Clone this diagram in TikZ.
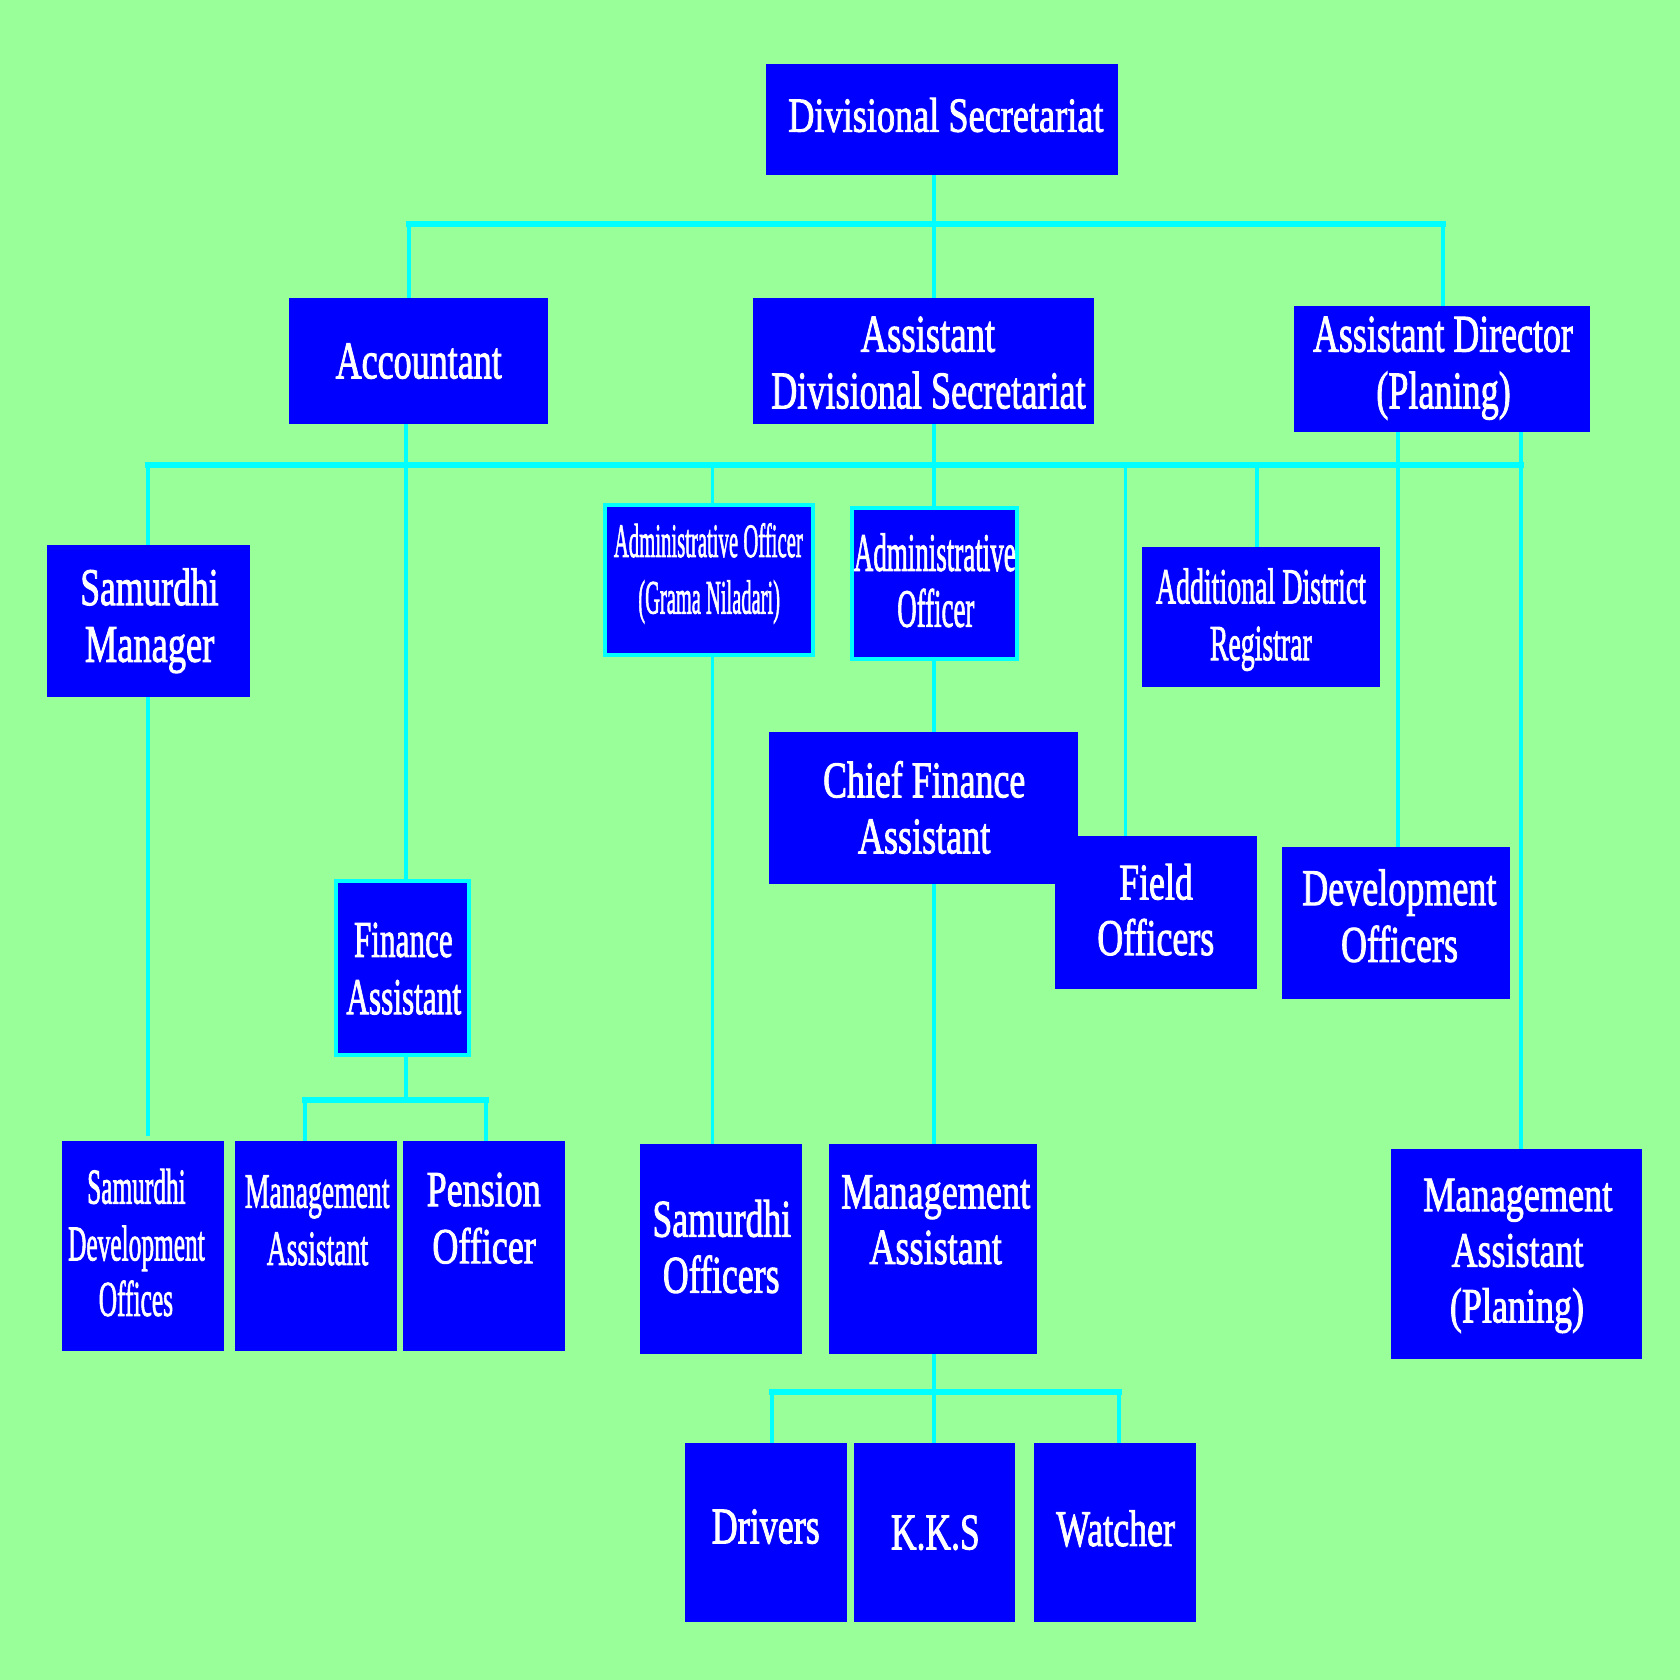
\documentclass[tikz,border=0pt]{standalone}
\usepackage{fontspec}
\setmainfont{Liberation Serif}[FakeBold=2.0]
\usepackage{graphicx}
\definecolor{bgc}{RGB}{153,255,153}
\definecolor{boxblue}{RGB}{0,0,255}
\definecolor{linkc}{RGB}{0,255,255}
\pgfdeclarelayer{back}
\pgfdeclarelayer{lines}
\pgfsetlayers{back,lines,main}
\newsavebox\fitbox
\newlength\fitlen
\newcommand\fitline[2]{\sbox\fitbox{#2}\setlength\fitlen{\wd\fitbox}\pgfmathsetmacro\fitsx{#1*0.284528/\fitlen}\scalebox{\fitsx}[1]{\usebox\fitbox}}
\newcommand\tl[6]{\node[lbl,font={\fontsize{#4}{#4}\selectfont}] (#1) at (#2,-#3) {\fitline{#5}{#6}};}
\newcommand\bx[6][]{\node[box,#1,minimum width={(#4-#3)*0.01cm},minimum height={(#6-#5)*0.01cm}] (#2) at ({(#3+#4)/2},{-(#5+#6)/2}) {};}
\tikzset{
  box/.style={rectangle,fill=boxblue,inner sep=0pt,outer sep=0pt},
  bbox/.style={box,draw=linkc,line width=1.05pt},
  lbl/.style={anchor=base,inner sep=0pt,outer sep=0pt,text=white},
  hl/.style={draw=linkc,line width=1.56pt,line cap=rect},
  vl/.style={draw=linkc,line width=1pt},
}
\begin{document}
\begin{tikzpicture}[x=0.01cm,y=0.01cm]
\useasboundingbox (0,0) rectangle (1568,-1568);
\begin{pgfonlayer}{back}
\fill[bgc] (0,0) rectangle (1568,-1568);
\end{pgfonlayer}
% boxes
\bx{ds}{714.5}{1043.8}{59.7}{163}
\bx{acc}{269.7}{511.0}{278.5}{395.7}
\bx{ads}{703}{1020.9}{277.8}{395.7}
\bx{ad}{1207.7}{1484.2}{285.3}{403.2}
\bx{sm}{44.3}{233.7}{508.7}{650.2}
\bx[bbox]{aogn}{565}{758.8}{471.7}{611.6}
\bx[bbox]{ao}{795.2}{949.5}{474.2}{614.7}
\bx{adr}{1065.6}{1287.7}{510.8}{640.9}
\bx{cfa}{717.3}{1006.5}{682.9}{824.8}
\bx{field}{984.2}{1173.2}{780.3}{922.8}
\bx{dev}{1196.9}{1409.1}{790.2}{932.4}
\bx[bbox]{fa}{313.7}{437.4}{822.2}{984.5}
\bx{sdo}{58.2}{209}{1065}{1261}
\bx{mal}{219.5}{370.4}{1065}{1261}
\bx{po}{375.8}{526.9}{1065}{1261}
\bx{so}{597.2}{748.7}{1067.7}{1263.7}
\bx{mam}{773.4}{968}{1067.7}{1263.7}
\bx{map}{1298}{1532.2}{1072.7}{1268.7}
\bx{drv}{639.3}{790.2}{1347.1}{1513.6}
\bx{kks}{797.3}{947.6}{1347.1}{1513.6}
\bx{wat}{965.5}{1116.3}{1347.1}{1513.6}
% junction coordinates
\coordinate (bus1) at (0,-209.2);
\coordinate (bus2) at (0,-434);
\coordinate (fab) at (0,-1027);
\coordinate (mab) at (0,-1299);
\coordinate (xds) at (871.9,0);
\coordinate (xacc1) at (381.7,0);
\coordinate (xad1) at (1347,0);
\coordinate (xsm) at (137.9,0);
\coordinate (xacc) at (378.8,0);
\coordinate (xgn) at (665.1,0);
\coordinate (xao) at (871.5,0);
\coordinate (xfo) at (1050.5,0);
\coordinate (xadr) at (1173,0);
\coordinate (xdev) at (1305,0);
\coordinate (xmap) at (1419.3,0);
\coordinate (xmal) at (284.7,0);
\coordinate (xpo) at (453.6,0);
\coordinate (xdrv) at (720.5,0);
\coordinate (xwat) at (1044.1,0);
% connectors
\begin{pgfonlayer}{lines}
\draw[vl] (ds.south -| xds) -- (ads.north -| xds);
\draw[hl] (xacc1 |- bus1) -- (xad1 |- bus1);
\draw[vl] (xacc1 |- bus1) -- (acc.north -| xacc1);
\draw[vl] (xad1 |- bus1) -- (ad.north -| xad1);
\draw[hl] (xsm |- bus2) -- (xmap |- bus2);
\draw[vl] (xsm |- bus2) -- (sm.north -| xsm);
\draw[vl] (acc.south -| xacc) -- (fa.north -| xacc);
\draw[vl] (xgn |- bus2) -- (aogn.north -| xgn);
\draw[vl] (ads.south -| xao) -- (ao.north -| xao);
\draw[vl] (xfo |- bus2) -- (field.north -| xfo);
\draw[vl] (xadr |- bus2) -- (adr.north -| xadr);
\draw[vl] (ad.south -| xdev) -- (dev.north -| xdev);
\draw[vl] (ad.south -| xmap) -- (map.north -| xmap);
\draw[vl,shorten >=0.05cm] (sm.south -| xsm) -- (sdo.north -| xsm);
\draw[vl] (aogn.south -| xgn) -- (so.north -| xgn);
\draw[vl] (ao.south -| xao) -- (cfa.north -| xao);
\draw[vl] (cfa.south -| xao) -- (mam.north -| xao);
\draw[vl] (fa.south -| xacc) -- (xacc |- fab);
\draw[hl] (xmal |- fab) -- (xpo |- fab);
\draw[vl] (xmal |- fab) -- (mal.north -| xmal);
\draw[vl] (xpo |- fab) -- (po.north -| xpo);
\draw[vl] (mam.south -| xao) -- (kks.north -| xao);
\draw[hl] (xdrv |- mab) -- (xwat |- mab);
\draw[vl] (xdrv |- mab) -- (drv.north -| xdrv);
\draw[vl] (xwat |- mab) -- (wat.north -| xwat);
\end{pgfonlayer}
% texts
\tl{ds-t}{882.8}{122.9}{12.98}{294}{Divisional Secretariat}
\tl{acc-t}{390.8}{353.1}{14.05}{155}{Accountant}
\tl{ads-t1}{866.05}{328.2}{14.05}{125.5}{Assistant}
\tl{ads-t2}{866.55}{381.1}{14.05}{293.3}{Divisional Secretariat}
\tl{ad-t1}{1346.75}{328.2}{14.05}{242.3}{Assistant Director}
\tl{ad-t2}{1347.3}{381.1}{14.05}{125.4}{(Planing)}
\tl{sm-t1}{139.5}{564.7}{14.05}{129}{Samurdhi}
\tl{sm-t2}{139.65}{617.6}{14.05}{120.7}{Manager}
\tl{aogn-t1}{661.1}{519.8}{12.7}{176.2}{Administrative Officer}
\tl{aogn-t2}{661.9}{572.6}{12.7}{132.2}{(Grama Niladari)}
\tl{ao-t1}{872.5}{532.7}{14.31}{151}{Administrative}
\tl{ao-t2}{873.45}{584.9}{14.31}{71.9}{Officer}
\tl{adr-t1}{1176.9}{563.1}{13.37}{196}{Additional District}
\tl{adr-t2}{1176.8}{616}{13.37}{95}{Registrar}
\tl{cfa-t1}{862.6}{744.1}{13.62}{188.6}{Chief Finance}
\tl{cfa-t2}{862.55}{796.4}{13.62}{123.5}{Assistant}
\tl{field-t1}{1078.95}{839.4}{13.62}{68.7}{Field}
\tl{field-t2}{1078.75}{891.3}{13.62}{109.1}{Officers}
\tl{dev-t1}{1306.05}{844.7}{13.62}{181.1}{Development}
\tl{dev-t2}{1306.25}{897.6}{13.62}{109.1}{Officers}
\tl{fa-t1}{376.45}{893.0}{13.66}{92.1}{Finance}
\tl{fa-t2}{376.85}{946.5}{13.66}{107.1}{Assistant}
\tl{sdo-t1}{127.35}{1123.3}{13.3}{91.9}{Samurdhi}
\tl{sdo-t2}{127.35}{1176.3}{13.3}{127.5}{Development}
\tl{sdo-t3}{126.85}{1228.1}{13.3}{69.3}{Offices}
\tl{mal-t1}{296.1}{1127.2}{13.1}{135}{Management}
\tl{mal-t2}{296.3}{1180.6}{13.1}{94.6}{Assistant}
\tl{po-t1}{451.5}{1125.6}{13.37}{106.4}{Pension}
\tl{po-t2}{451.85}{1179}{13.37}{96.5}{Officer}
\tl{so-t1}{673.7}{1154.2}{14.05}{129.4}{Samurdhi}
\tl{so-t2}{673.15}{1206.5}{14.05}{108.9}{Officers}
\tl{mam-t1}{873.3}{1127.8}{13.37}{176.4}{Management}
\tl{mam-t2}{873.3}{1179.7}{13.37}{123.6}{Assistant}
\tl{map-t1}{1416.6}{1130.3}{13.1}{176.4}{Management}
\tl{map-t2}{1416.35}{1182.2}{13.1}{122.9}{Assistant}
\tl{map-t3}{1415.85}{1234.2}{13.1}{125.1}{(Planing)}
\tl{drv-t}{714.7}{1440.4}{13.62}{100.8}{Drivers}
\tl{kks-t}{873}{1446}{13.62}{82.8}{K.K.S}
\tl{wat-t}{1041.25}{1442.9}{13.62}{110.7}{Watcher}
\end{tikzpicture}
\end{document}
